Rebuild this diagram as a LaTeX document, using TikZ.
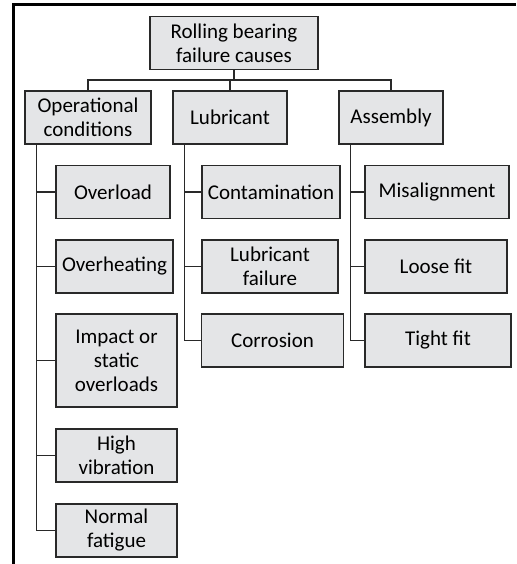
\documentclass[tikz,border=0pt]{standalone}
\usepackage{fontspec}
\setmainfont{Carlito}
\usepackage{tikz}
\usetikzlibrary{calc}
\usepackage{xcolor}
\definecolor{boxfill}{rgb}{0.894,0.898,0.906}
\definecolor{linegray}{rgb}{0.16,0.16,0.16}
\newcommand{\spineshift}{12}
\newcommand{\cause}[4]{\node[causebox,minimum width=#3] (#1) at (#2) {#4};}
\newcommand{\hook}[2]{\draw[link] ($(#1.south west)+(\spineshift,0)$) |- (#2.west);}
\tikzset{
  causebox/.style={draw=linegray,fill=boxfill,line width=1.3pt,align=center,
    minimum height=53pt,inner sep=0pt,font=\fontsize{21}{24}\selectfont},
  link/.style={draw=linegray,line width=1.6pt},
}

\begin{document}
\begin{tikzpicture}[x=1pt,y=-1pt]
        \useasboundingbox (0,0) rectangle (516,564);
        % frame
        \draw[line width=3pt] (13,564) -- (13,5) -- (516,5);

        \cause{root}{234,43}{168}{Rolling bearing\\failure causes}
        \cause{opc}{88,117.5}{126}{Operational\\conditions}
        \cause{lub}{230,117.5}{114}{Lubricant}
        \cause{asm}{391,117.5}{104}{Assembly}

        \coordinate (bus) at (234,80);
        \draw[link] (root.south) -- (bus);
        \draw[link] (opc.north) |- (bus) -| (asm.north);
        \draw[link] (bus) -| (lub.north);

        % operational conditions
        \cause{ovl}{113,192}{114}{Overload}
        \cause{ovh}{114.5,266.5}{117}{Overheating}
        \node[causebox,minimum width=121,minimum height=93] (imp) at (116.5,360.5) {Impact or\\static\\overloads};
        \cause{vib}{116.5,455.5}{121}{High\\vibration}
        \cause{fat}{116.5,530.5}{121}{Normal\\fatigue}

        % lubricant
        \cause{con}{271,192}{138}{Contamination}
        \cause{luf}{270,266.5}{136}{Lubricant\\failure}
        \cause{cor}{272.5,340.5}{142}{Corrosion}

        % assembly
        \cause{mis}{437,192}{144}{Misalignment}
        \cause{lfit}{436,266.5}{142}{Loose fit}
        \cause{tfit}{438,340.5}{146}{Tight fit}

        \hook{opc}{ovl}
        \hook{opc}{ovh}
        \hook{opc}{imp}
        \hook{opc}{vib}
        \hook{opc}{fat}

        \hook{lub}{con}
        \hook{lub}{luf}
        \hook{lub}{cor}

        \hook{asm}{mis}
        \hook{asm}{lfit}
        \hook{asm}{tfit}

    \end{tikzpicture}
\end{document}
